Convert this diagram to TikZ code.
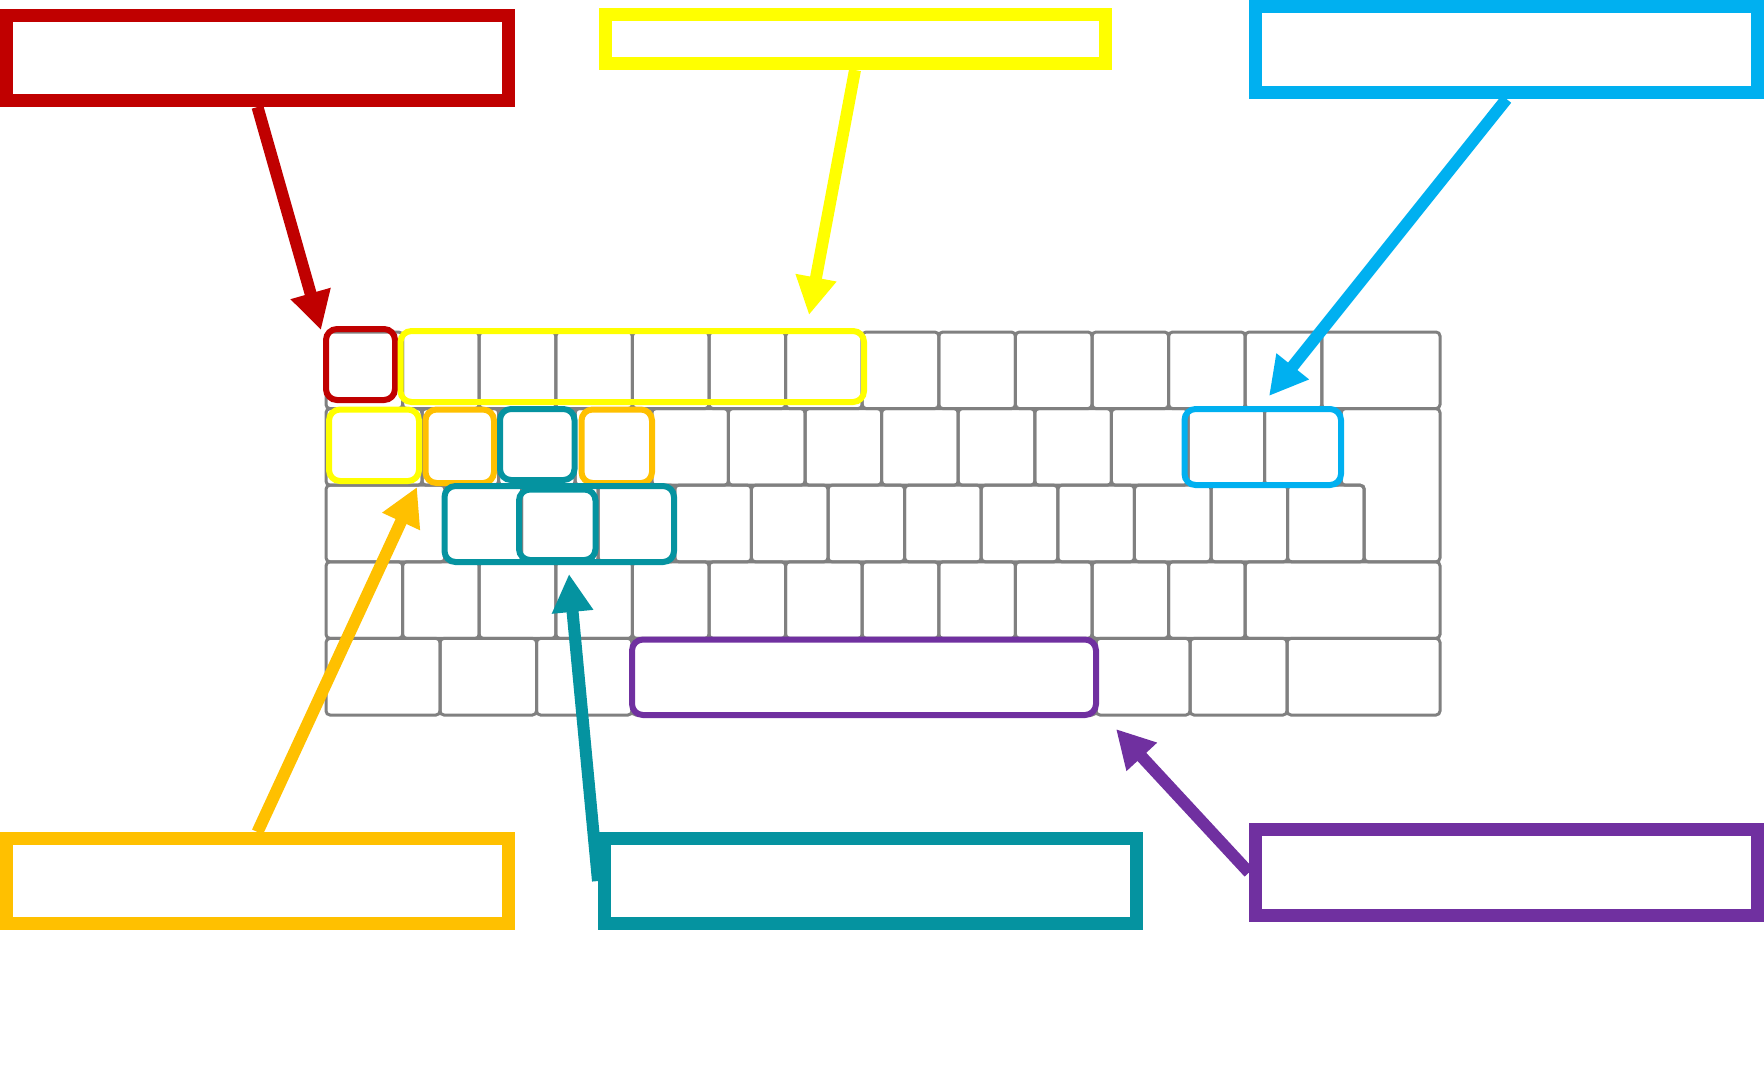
\documentclass[tikz,border=0pt]{standalone}
\usetikzlibrary{arrows.meta}

\definecolor{kgray}{HTML}{808080}
\definecolor{kred}{HTML}{C00000}
\definecolor{kyellow}{HTML}{FFFF00}
\definecolor{kcyan}{HTML}{00B0F0}
\definecolor{korange}{HTML}{FFC000}
\definecolor{kteal}{HTML}{0593A0}
\definecolor{kpurple}{HTML}{7030A0}

\begin{document}
\begin{tikzpicture}
\tikzstyle{key}=[draw=kgray, line width=0.03cm, rounded corners=0.04cm]
\tikzstyle{hl}=[line width=0.06cm, rounded corners=0.11cm]
\tikzstyle{callout}=[draw, rectangle, line width=0.13cm, inner sep=0pt]
\tikzstyle{pointer}=[line width=0.12cm, -{Triangle[length=0.38cm, width=0.39cm]}]

\useasboundingbox (0,0) rectangle (17.64,-10.65);

% keyboard, row by row
\foreach \k in {0,...,12}
  \draw[key] ({3.26+0.766*\k},-3.32) rectangle ++(0.766,-0.766);
\draw[key] (13.218,-3.32) rectangle (14.40,-4.086);

\draw[key] (3.26,-4.086) rectangle (4.22,-4.852);
\foreach \k in {0,...,11}
  \draw[key] ({4.22+0.766*\k},-4.086) rectangle ++(0.766,-0.766);
\draw[key] (13.412,-4.086) -- (14.40,-4.086) -- (14.40,-5.618) -- (13.642,-5.618)
  -- (13.642,-4.852) -- (13.412,-4.852) -- cycle;

\draw[key] (3.26,-4.852) rectangle (4.45,-5.618);
\foreach \k in {0,...,11}
  \draw[key] ({4.45+0.766*\k},-4.852) rectangle ++(0.766,-0.766);

\foreach \k in {0,...,11}
  \draw[key] ({3.26+0.766*\k},-5.618) rectangle ++(0.766,-0.766);
\draw[key] (12.452,-5.618) rectangle (14.40,-6.384);

\foreach \a/\b in {3.26/4.40, 4.40/5.365, 5.365/6.32, 6.32/10.96, 10.96/11.90, 11.90/12.87, 12.87/14.40}
  \draw[key] (\a,-6.384) rectangle (\b,-7.15);

% highlighted keys
\draw[hl, kred] (3.26,-3.29) rectangle (3.95,-4.00);
\draw[hl, kyellow] (4.005,-3.31) rectangle (8.64,-4.02);
\draw[hl, kyellow] (3.29,-4.095) rectangle (4.19,-4.81);
\draw[hl, korange] (4.255,-4.095) rectangle (4.94,-4.83);
\draw[hl, korange] (5.815,-4.095) rectangle (6.52,-4.83);
\draw[hl, kteal] (5.00,-4.09) rectangle (5.745,-4.80);
\draw[hl, kteal] (4.445,-4.86) rectangle (6.74,-5.62);
\draw[hl, kteal] (5.19,-4.895) rectangle (5.955,-5.60);
\draw[hl, kcyan] (11.845,-4.09) rectangle (13.41,-4.85);
\draw[hl, kpurple] (6.32,-6.395) rectangle (10.96,-7.15);

% label boxes
\node(redlbl)[callout, draw=kred, minimum width=5.02cm, minimum height=0.85cm] at (2.575,-0.58) {};
\node(yellowlbl)[callout, draw=kyellow, minimum width=5.00cm, minimum height=0.49cm] at (8.55,-0.39) {};
\node(cyanlbl)[callout, draw=kcyan, minimum width=5.02cm, minimum height=0.86cm] at (15.065,-0.495) {};
\node(orangelbl)[callout, draw=korange, minimum width=5.02cm, minimum height=0.85cm] at (2.575,-8.81) {};
\node(teallbl)[callout, draw=kteal, minimum width=5.32cm, minimum height=0.85cm] at (8.705,-8.81) {};
\node(purplelbl)[callout, draw=kpurple, minimum width=5.02cm, minimum height=0.86cm] at (15.065,-8.725) {};

% arrow ends
\coordinate (redtip) at (3.21,-3.30);
\coordinate (yellowtip) at (8.09,-3.15);
\coordinate (cyantip) at (12.69,-3.96);
\coordinate (orangetip) at (4.17,-4.87);
\coordinate (tealtip) at (5.69,-5.74);
\coordinate (purpletip) at (11.16,-7.29);

\draw[pointer, kred] (redlbl.south) -- (redtip);
\draw[pointer, kyellow] (yellowlbl.south) -- (yellowtip);
\draw[pointer, kcyan] (cyanlbl.south) -- (cyantip);
\draw[pointer, korange] (orangelbl.north) -- (orangetip);
\draw[pointer, kteal] (teallbl.west) -- (tealtip);
\draw[pointer, kpurple] (purplelbl.west) -- (purpletip);

\end{tikzpicture}
\end{document}
